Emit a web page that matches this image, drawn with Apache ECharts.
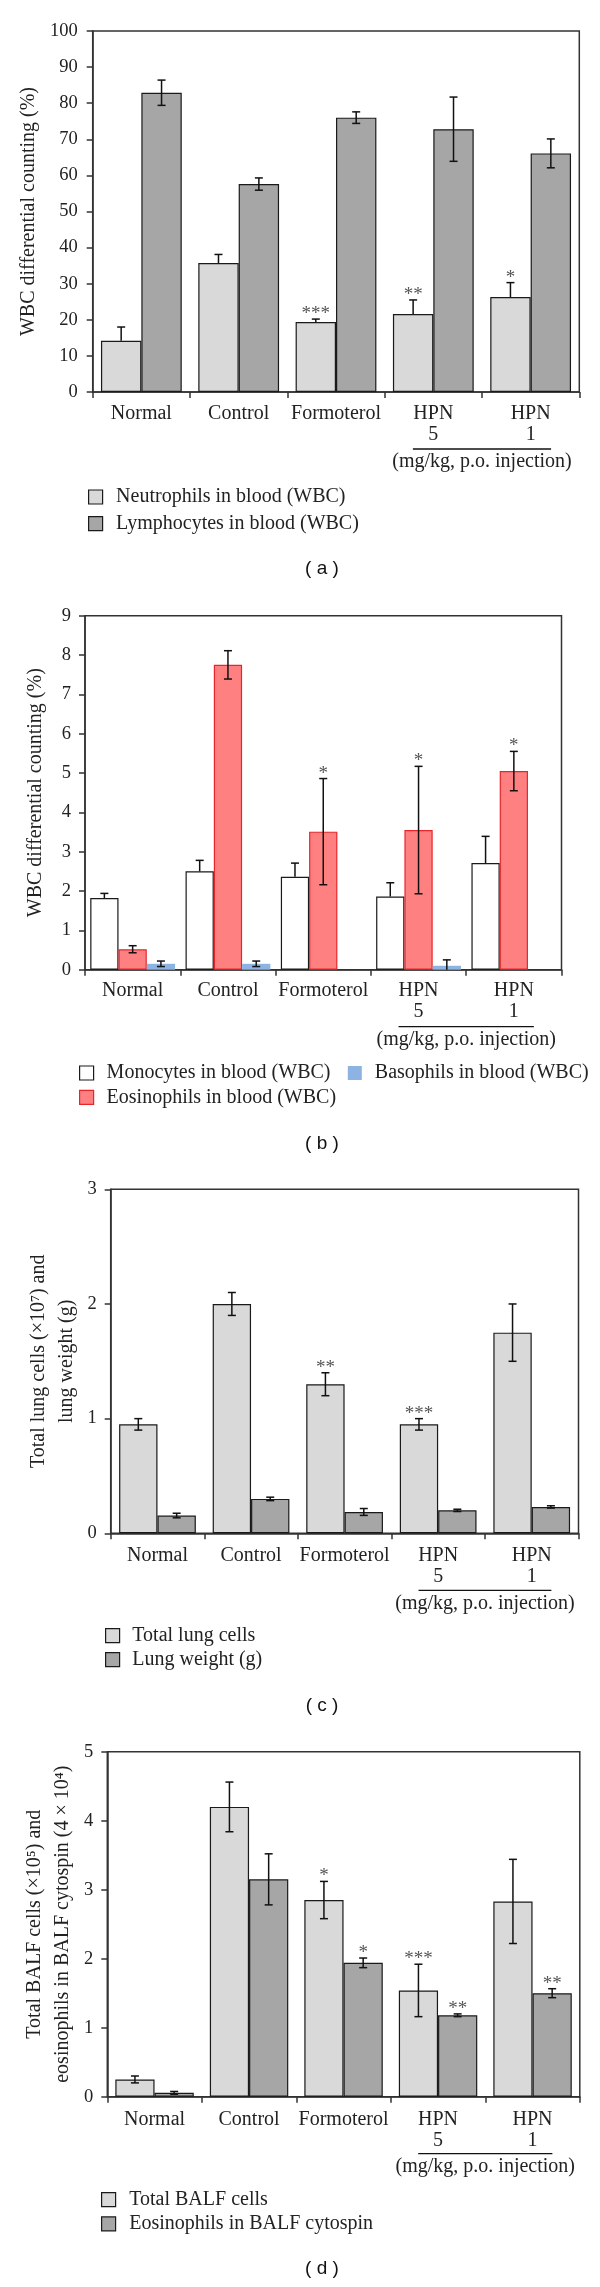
<!DOCTYPE html>
<html><head><meta charset="utf-8">
<script src="https://cdn.jsdelivr.net/npm/echarts@6/dist/echarts.min.js"></script>
<style>html,body{margin:0;padding:0;background:#fff}#c{width:600px;height:2287px}</style>
</head><body><div id="c"></div>
<script>
// ---------- DATA ----------
const categories = ['Normal', 'Control', 'Formoterol', 'HPN\n5', 'HPN\n1'];
// panel (a)
const neutrophils = [14.2, 35.7, 19.4, 21.6, 26.3];
const neutrophilsErr = [3.8, 2.4, 0.8, 3.9, 4.0];
const neutrophilsSig = ['', '', '***', '**', '*'];
const lymphocytes = [82.9, 57.6, 76.0, 72.8, 66.1];
const lymphocytesErr = [3.5, 1.7, 1.6, 8.9, 4.0];
// panel (b)
const monocytes = [1.82, 2.5, 2.36, 1.86, 2.71];
const monocytesErr = [0.12, 0.28, 0.35, 0.35, 0.68];
const eosinophils = [0.52, 7.75, 3.51, 3.55, 5.05];
const eosinophilsErr = [0.09, 0.36, 1.35, 1.62, 0.5];
const eosinophilsSig = ['', '', '*', '*', '*'];
const basophils = [0.15, 0.15, 0, 0.1, 0];
const basophilsErr = [0.07, 0.07, 0, 0.15, 0];
// panel (c)
const lungCells = [0.95, 2.0, 1.3, 0.95, 1.75];
const lungCellsErr = [0.05, 0.1, 0.1, 0.05, 0.25];
const lungCellsSig = ['', '', '**', '***', ''];
const lungWeight = [0.155, 0.3, 0.186, 0.2, 0.23];
const lungWeightErr = [0.02, 0.015, 0.03, 0.01, 0.01];
// panel (d)
const balfCells = [0.25, 4.2, 2.85, 1.54, 2.83];
const balfCellsErr = [0.05, 0.36, 0.27, 0.38, 0.61];
const balfCellsSig = ['', '', '*', '***', ''];
const balfEos = [0.056, 3.15, 1.94, 1.18, 1.5];
const balfEosErr = [0.02, 0.37, 0.07, 0.02, 0.065];
const balfEosSig = ['', '', '*', '**', '**'];

// ---------- STYLE ----------
const FONT = '"Liberation Serif", "Times New Roman", serif';
const AX = '#333';
const TXT = '#222';
const LIGHT = '#d9d9d9', DARK = '#a6a6a6', EDGE = '#1a1a1a';
const RED = '#ff8080', REDEDGE = '#e8262a', BLUE = '#8db3e2';
const TS = 20;

const grids = [
  {left: 92.7, top: 31, width: 486.6, height: 361},
  {left: 85, top: 615.7, width: 476.5, height: 354},
  {left: 110.7, top: 1189.3, width: 467.8, height: 344},
  {left: 107.3, top: 1751.7, width: 472.5, height: 345}
];
const yCfg = [
  {max: 100, interval: 10, name: ['WBC differential counting (%)'], gap: 41, margin: 15},
  {max: 9, interval: 1, name: ['WBC differential counting (%)'], gap: 35, margin: 14},
  {max: 3, interval: 1, name: ['Total lung cells (×10⁷) and', 'lung weight (g)'], gap: 30, margin: 14},
  {max: 5, interval: 1, name: ['Total BALF cells (×10⁵) and', 'eosinophils in BALF cytospin (4 × 10⁴)'], gap: 26, margin: 14}
];
const labelMargin = [11, 11, 11.5, 12.5];

const xAxes = grids.map((g, i) => ({
  type: 'category', gridIndex: i, data: categories,
  axisLine: {lineStyle: {color: AX, width: 1.5}},
  axisTick: {show: true, length: 6, lineStyle: {color: AX, width: 1.5}},
  axisLabel: {color: TXT, fontFamily: FONT, fontSize: TS, lineHeight: 21, margin: labelMargin[i], interval: 0}
}));
const yAxes = yCfg.map((c, i) => ({
  type: 'value', gridIndex: i, min: 0, max: c.max, interval: c.interval,
  splitLine: {show: false},
  axisLine: {show: true, lineStyle: {color: AX, width: 1.5}},
  axisTick: {show: true, length: 6, lineStyle: {color: AX, width: 1.5}},
  axisLabel: {color: TXT, fontFamily: FONT, fontSize: 18.5, margin: c.margin},
  name: c.name.map(s => '{n|' + s + '}').join('\n'), nameLocation: 'middle', nameGap: c.gap, nameRotate: 90,
  nameTextStyle: {color: TXT, fontFamily: FONT, fontSize: TS, align: 'center',
    rich: {n: {color: TXT, fontFamily: FONT, fontSize: TS, lineHeight: 28}}}
}));

function bar(name, gi, data, fill, edge, gap, bw) {
  return {
    type: 'bar', name, xAxisIndex: gi, yAxisIndex: gi, data,
    barGap: '0%', barCategoryGap: gap,
    itemStyle: {color: fill, borderColor: edge, borderWidth: bw === undefined ? 1.2 : bw},
    z: 2
  };
}
function errSeries(name, gi, vals, errs, n, k, gapFrac, upOnly, sig) {
  return {
    type: 'custom', name, xAxisIndex: gi, yAxisIndex: gi, z: 10,
    encode: {x: 0, y: 1},
    data: vals.map((v, i) => [i, v, errs[i]]),
    renderItem: function (params, api) {
      const idx = api.value(0), v = api.value(1), e = api.value(2);
      const band = api.size([1, 0])[0];
      const bw = band * (1 - gapFrac) / n;
      const cx = api.coord([idx, v])[0] + (k - (n - 1) / 2) * bw;
      const yTop = api.coord([idx, v + e])[1];
      const yBot = api.coord([idx, upOnly ? v : Math.max(0, v - e)])[1];
      const st = {stroke: '#111', lineWidth: 1.5};
      const ch = [];
      if (e > 0) {
        ch.push({type: 'line', shape: {x1: cx, y1: yTop, x2: cx, y2: yBot}, style: st});
        ch.push({type: 'line', shape: {x1: cx - 4, y1: yTop, x2: cx + 4, y2: yTop}, style: st});
        if (!upOnly && v - e > 0) ch.push({type: 'line', shape: {x1: cx - 4, y1: yBot, x2: cx + 4, y2: yBot}, style: st});
      }
      const s = sig ? sig[idx] : '';
      if (s) ch.push({type: 'text', style: {text: s, x: cx, y: yTop - 5, align: 'center', verticalAlign: 'middle',
        font: '19px ' + FONT, fill: '#555'}});
      return {type: 'group', children: ch};
    }
  };
}

const series = [
  bar('Neutrophils in blood (WBC)', 0, neutrophils, LIGHT, EDGE, '17%'),
  bar('Lymphocytes in blood (WBC)', 0, lymphocytes, DARK, EDGE, '17%'),
  errSeries('e1', 0, neutrophils, neutrophilsErr, 2, 0, 0.17, true, neutrophilsSig),
  errSeries('e2', 0, lymphocytes, lymphocytesErr, 2, 1, 0.17, false, null),

  bar('Monocytes in blood (WBC)', 1, monocytes, '#ffffff', EDGE, '11%'),
  bar('Eosinophils in blood (WBC)', 1, eosinophils, RED, REDEDGE, '11%'),
  bar('Basophils in blood (WBC)', 1, basophils, BLUE, BLUE, '11%', 0),
  errSeries('e3', 1, monocytes, monocytesErr, 3, 0, 0.11, true, null),
  errSeries('e4', 1, eosinophils, eosinophilsErr, 3, 1, 0.11, false, eosinophilsSig),
  errSeries('e5', 1, basophils, basophilsErr, 3, 2, 0.11, false, null),

  bar('Total lung cells', 2, lungCells, LIGHT, EDGE, '18%'),
  bar('Lung weight (g)', 2, lungWeight, DARK, EDGE, '18%'),
  errSeries('e6', 2, lungCells, lungCellsErr, 2, 0, 0.18, false, lungCellsSig),
  errSeries('e7', 2, lungWeight, lungWeightErr, 2, 1, 0.18, false, null),

  bar('Total BALF cells', 3, balfCells, LIGHT, EDGE, '17%'),
  bar('Eosinophils in BALF cytospin', 3, balfEos, DARK, EDGE, '17%'),
  errSeries('e8', 3, balfCells, balfCellsErr, 2, 0, 0.17, false, balfCellsSig),
  errSeries('e9', 3, balfEos, balfEosErr, 2, 1, 0.17, false, balfEosSig)
];

function legend(left, top, gap, pad, items) {
  return {
    left, top, padding: 0, orient: 'vertical', itemWidth: 14, itemHeight: 14, itemGap: gap,
    selectedMode: false, icon: 'rect',
    textStyle: {fontFamily: FONT, fontSize: TS, color: TXT, lineHeight: 20, padding: [0, 0, 0, pad]},
    data: items.map(it => ({name: it[0], itemStyle: {color: it[1], borderColor: it[2], borderWidth: it[3] === undefined ? 1.2 : it[3]}}))
  };
}
const legends = [
  legend(88, 487, 6.7, 8.5, [['Neutrophils in blood (WBC)', LIGHT, EDGE], ['Lymphocytes in blood (WBC)', DARK, EDGE]]),
  legend(79, 1063, 4.3, 8, [['Monocytes in blood (WBC)', '#ffffff', EDGE], ['Eosinophils in blood (WBC)', RED, REDEDGE]]),
  legend(347.8, 1063, 4.3, 8, [['Basophils in blood (WBC)', BLUE, BLUE, 0]]),
  legend(105, 1625.6, 4, 7.7, [['Total lung cells', LIGHT, EDGE], ['Lung weight (g)', DARK, EDGE]]),
  legend(101, 2189.6, 4.3, 8.6, [['Total BALF cells', LIGHT, EDGE], ['Eosinophils in BALF cytospin', DARK, EDGE]])
];

const chart = echarts.init(document.getElementById('c'), null, {renderer: 'canvas'});
chart.setOption({
  animation: false,
  backgroundColor: '#fff',
  grid: grids.map(g => Object.assign({show: true, borderColor: AX, borderWidth: 1.5, backgroundColor: 'transparent'}, g)),
  xAxis: xAxes, yAxis: yAxes, legend: legends, series
});

// annotations: dose bracket + panel letters
const gfx = [];
grids.forEach((g, i) => {
  const p3 = chart.convertToPixel({gridIndex: i}, [3, 0]);
  const p4 = chart.convertToPixel({gridIndex: i}, [4, 0]);
  const band = p4[0] - p3[0];
  const mid = (p3[0] + p4[0]) / 2;
  const y0 = p3[1];
  gfx.push({type: 'line', shape: {x1: mid - 0.71 * band, y1: y0 + 57, x2: mid + 0.71 * band, y2: y0 + 57},
    style: {stroke: '#111', lineWidth: 1.3}});
  gfx.push({type: 'text', style: {text: '(mg/kg, p.o. injection)', x: mid, y: y0 + 70, align: 'center', verticalAlign: 'middle',
    font: TS + 'px ' + FONT, fill: TXT}});
});
const letters = [['( a )', 568.5], ['( b )', 1143.7], ['( c )', 1705.4], ['( d )', 2268.3]];
letters.forEach(l => gfx.push({type: 'text', style: {text: l[0], x: 322, y: l[1], align: 'center', verticalAlign: 'middle',
  font: '19px "Liberation Sans", Arial, sans-serif', fill: '#111'}}));
chart.setOption({graphic: gfx});
</script>
</body></html>
